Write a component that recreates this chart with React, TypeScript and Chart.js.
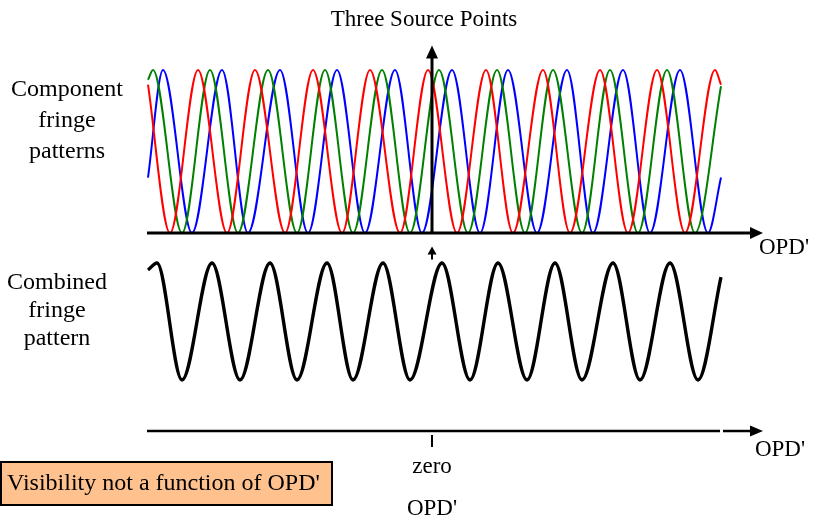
import React, { useEffect, useRef } from "react";
import { Chart, registerables } from "chart.js";

Chart.register(...registerables);

// OPD' positions (arbitrary units, zero = central fringe) and normalised intensities (0 = dark, 1 = bright)
const redX = [-284, -262, -234, -205, -177, -147, -119, -90, -62, -32, -4, 25, 54, 81, 111, 138, 168, 196, 225, 253, 283, 289];
const redY = [0.91, 0, 1, 0, 1, 0, 1, 0, 1, 0, 1, 0, 1, 0, 1, 0, 1, 0, 1, 0, 1, 0.91];
const greenX = [-284, -279, -250, -222, -194, -164, -135, -107, -79, -50, -22, 7, 36, 65, 93, 121, 150, 178, 206, 235, 263, 289];
const greenY = [0.94, 1, 0, 1, 0, 1, 0, 1, 0, 1, 0, 1, 0, 1, 0, 1, 0, 1, 0, 1, 0, 0.9];
const blueX = [-284, -269, -240, -210, -184, -152, -124, -95, -67, -37, -10, 20, 48, 76, 105, 135, 161, 191, 218, 248, 276, 289];
const blueY = [0.34, 1, 0, 1, 0, 1, 0, 1, 0, 1, 0, 1, 0, 1, 0, 1, 0, 1, 0, 1, 0, 0.34];
const combinedX = [-284, -275, -250, -220, -192, -162, -135, -105, -79, -49, -22, 10, 38, 66, 95, 123, 150, 181, 208, 238, 266, 289];
const combinedY = [0.94, 1, 0, 1, 0, 1, 0, 1, 0, 1, 0, 1, 0, 1, 0, 1, 0, 1, 0, 1, 0, 0.88];

// Texts
const titleText = "Three Source Points";
const componentLabel = ["Component", "fringe", "patterns"];
const combinedLabel = ["Combined", "fringe", "pattern"];
const axisLabel = "OPD'";
const zeroLabel = "zero";
const boxText = "Visibility not a function of OPD'";

const W = 815;
const H = 521;
const FAMILY = "'Liberation Serif', 'Times New Roman', serif";

const toPoints = (xs: number[], ys: number[]) => xs.map((x, i) => ({ x, y: ys[i] }));

function hArrow(ctx: CanvasRenderingContext2D, x1: number, tip: number, y: number, lw: number, len: number, half: number) {
  ctx.lineWidth = lw;
  ctx.beginPath();
  ctx.moveTo(x1, y);
  ctx.lineTo(tip - len + 1, y);
  ctx.stroke();
  ctx.beginPath();
  ctx.moveTo(tip, y);
  ctx.lineTo(tip - len, y - half);
  ctx.lineTo(tip - len, y + half);
  ctx.closePath();
  ctx.fill();
}

function vArrow(ctx: CanvasRenderingContext2D, x: number, y1: number, tip: number, lw: number, len: number, half: number) {
  ctx.lineWidth = lw;
  ctx.beginPath();
  ctx.moveTo(x, y1);
  ctx.lineTo(x, tip + len - 1);
  ctx.stroke();
  ctx.beginPath();
  ctx.moveTo(x, tip);
  ctx.lineTo(x - half, tip + len);
  ctx.lineTo(x + half, tip + len);
  ctx.closePath();
  ctx.fill();
}

const decorPlugin = {
  id: "decor",
  afterDatasetsDraw(chart: any) {
    const ctx: CanvasRenderingContext2D = chart.ctx;
    const xs = chart.scales.x;
    const yc = chart.scales.yc;
    const yb = chart.scales.yb;
    const x0 = xs.getPixelForValue(0);
    const xStart = xs.getPixelForValue(-285);
    const xTip = xs.getPixelForValue(331);
    const yTopAxis = yc.getPixelForValue(0);
    const yBotAxis = yb.getPixelForValue(-0.436);

    ctx.save();
    ctx.fillStyle = "#000";
    ctx.strokeStyle = "#000";
    ctx.lineCap = "butt";

    // top axis and vertical arrow
    hArrow(ctx, xStart, xTip, yTopAxis, 3, 13, 6);
    vArrow(ctx, x0, yTopAxis, yc.getPixelForValue(1.15), 3, 13, 6);
    // small arrow between panels
    vArrow(ctx, x0, yb.getPixelForValue(1.03), yb.getPixelForValue(1.14), 2, 8, 4.5);

    // bottom axis (with small gap near the end) and zero tick
    const xGap = xs.getPixelForValue(288);
    ctx.lineWidth = 2.5;
    ctx.beginPath();
    ctx.moveTo(xStart, yBotAxis);
    ctx.lineTo(xGap, yBotAxis);
    ctx.stroke();
    hArrow(ctx, xGap + 3, xTip, yBotAxis, 2.5, 13, 5.5);
    ctx.lineWidth = 2;
    ctx.beginPath();
    ctx.moveTo(x0, yBotAxis + 4);
    ctx.lineTo(x0, yBotAxis + 16);
    ctx.stroke();

    // box
    ctx.fillStyle = "#FFC28E";
    ctx.fillRect(1, 462, 331, 43);
    ctx.lineWidth = 2;
    ctx.strokeRect(1, 462, 331, 43);

    // texts
    ctx.fillStyle = "#000";
    ctx.textBaseline = "middle";
    ctx.textAlign = "center";
    ctx.font = `23px ${FAMILY}`;
    ctx.fillText(titleText, 424, 20);
    ctx.fillText(axisLabel, 784, 248);
    ctx.fillText(axisLabel, 780, 450);
    ctx.fillText(zeroLabel, x0, 467);
    ctx.fillText(axisLabel, x0, 509);
    ctx.font = `24px ${FAMILY}`;
    componentLabel.forEach((t, i) => ctx.fillText(t, 67, 90 + i * 31));
    combinedLabel.forEach((t, i) => ctx.fillText(t, 57, 283 + i * 28));
    ctx.textAlign = "left";
    ctx.fillText(boxText, 7, 484);
    ctx.restore();
  },
};

export default function App() {
  const ref = useRef<HTMLCanvasElement | null>(null);

  useEffect(() => {
    if (!ref.current) return;
    const line = (label: string, xs: number[], ys: number[], color: string, axis: string, width: number) => ({
      label,
      data: toPoints(xs, ys),
      borderColor: color,
      backgroundColor: color,
      borderWidth: width,
      pointRadius: 0,
      fill: false,
      cubicInterpolationMode: "monotone" as const,
      yAxisID: axis,
    });
    const chart = new Chart(ref.current, {
      type: "line",
      data: {
        datasets: [
          line("Source 1", redX, redY, "#FF0000", "yc", 2),
          line("Source 2", greenX, greenY, "#008000", "yc", 2),
          line("Source 3", blueX, blueY, "#0000FF", "yc", 2),
          line("Combined", combinedX, combinedY, "#000000", "yb", 3.4),
        ],
      },
      options: {
        responsive: false,
        animation: false,
        events: [],
        layout: { padding: 0 },
        plugins: { legend: { display: false }, tooltip: { enabled: false }, title: { display: false } },
        scales: {
          x: { type: "linear", min: -432, max: 383, display: false },
          yc: { type: "linear", min: -1.7669, max: 1.4294, display: false },
          yb: { type: "linear", min: -1.2051, max: 3.2479, display: false },
        },
      },
      plugins: [decorPlugin],
    });
    return () => chart.destroy();
  }, []);

  return (
    <div style={{ position: "fixed", left: 0, top: 0, width: W, height: H, background: "#fff" }}>
      <canvas ref={ref} width={W} height={H} style={{ width: W, height: H, display: "block" }} />
    </div>
  );
}
